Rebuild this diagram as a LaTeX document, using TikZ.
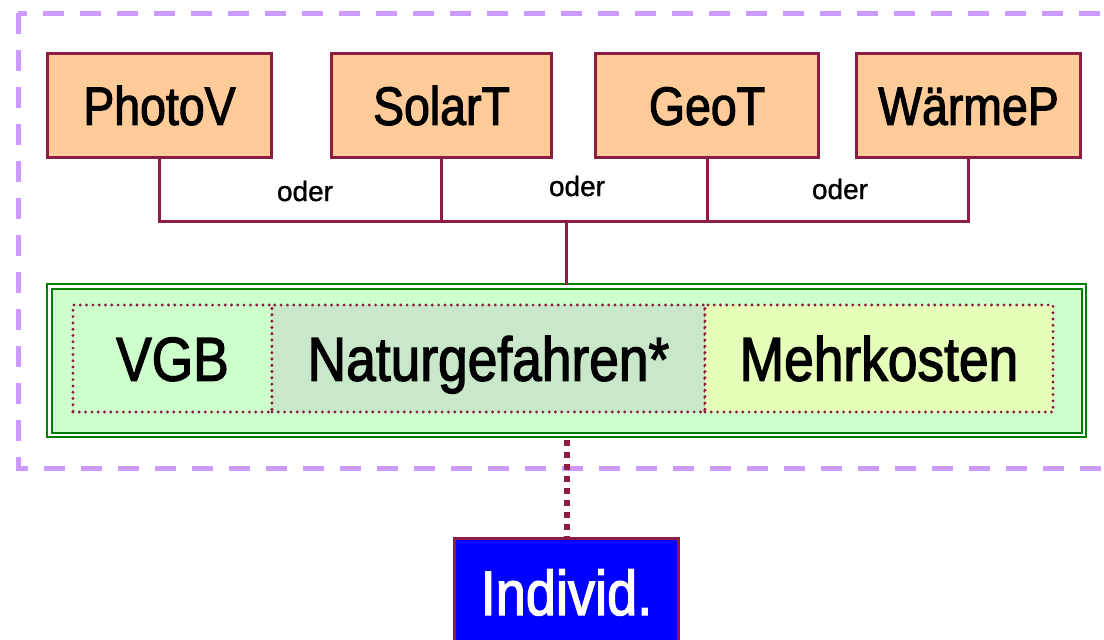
\documentclass[tikz,border=0pt]{standalone}
\usepackage{fontspec}
\setmainfont{Liberation Sans}
\newfontfamily\narrowsans{Liberation Sans}[FakeStretch=0.86, FakeBold=2]
\newfontfamily\smallsans{Liberation Sans}[FakeBold=1]
\definecolor{wine}{HTML}{8C1C40}
\definecolor{peach}{HTML}{FFCC99}
\definecolor{mint}{HTML}{CCFFCC}
\definecolor{lilac}{HTML}{CC99FF}
\definecolor{darkgreen}{HTML}{008000}
\definecolor{sage}{HTML}{C9E8C9}
\definecolor{limecream}{HTML}{E6FFB8}
\definecolor{pureblue}{HTML}{0000FF}
\begin{document}
\begin{tikzpicture}[x=1pt,y=-1pt,
  srcbox/.style={draw=wine, line width=3pt, fill=peach, minimum width=#1,
    minimum height=104pt, inner sep=0pt,
    font=\narrowsans\fontsize{54}{60}\selectfont, text height=38.7pt, text depth=0pt},
  partbox/.style={draw=wine, line width=3.2pt, line cap=round, dash pattern=on 0pt off 6.3pt,
    fill=#1, minimum height=107pt, inner sep=0pt,
    font=\narrowsans\fontsize{62}{68}\selectfont, text height=44.4pt, text depth=0pt},
  orlabel/.style={font=\smallsans\fontsize{28}{30}\selectfont, inner sep=0pt},
  link/.style={draw=wine, line width=3pt}]
\clip (0,0) rectangle (1104,640);
\fill[white] (0,0) rectangle (1104,640);

% dashed frame around the whole group
\draw[lilac, line width=5pt, dash pattern=on 21pt off 16pt] (18,13) rectangle (1140,468);

% heat sources
\node[srcbox=224] (pv) at (159.5,105.5) {PhotoV};
\node[srcbox=220] (st) at (441.5,105.5) {SolarT};
\node[srcbox=223] (gt) at (707,105.5) {GeoT};
\node[srcbox=224] (wp) at (968.5,105.5) {WärmeP};

% collecting bus
\coordinate (bus) at (566.5,221);
\draw[link] (pv.south) -- (pv.south |- bus) -- (wp.south |- bus) -- (wp.south);
\draw[link] (st.south) -- (st.south |- bus);
\draw[link] (gt.south) -- (gt.south |- bus);

\node[orlabel] (or1) at (305,191) {oder};
\node[orlabel] (or2) at (577,186) {oder};
\node[orlabel] (or3) at (840,189) {oder};

% combined module
\node[draw=darkgreen, line width=2pt, double=white, double distance=2.5pt,
  fill=mint, minimum width=1034.5pt, minimum height=148.5pt, inner sep=0pt]
  (group) at (566.5,360.5) {};
\draw[link] (bus) -- (group.north);

\node[partbox=mint, minimum width=199pt] (vgb) at (172.5,358.5) {VGB};
\node[partbox=sage, minimum width=433pt] (nat) at (488.5,358.5) {Naturgefahren*};
\node[partbox=limecream, minimum width=348pt] (mk) at (879,358.5) {Mehrkosten};

% individual solution
\node[draw=wine, line width=3pt, fill=pureblue, text=white,
  minimum width=224pt, minimum height=108pt, inner sep=0pt,
  font=\narrowsans\fontsize{63}{68}\selectfont, text height=45pt, text depth=0pt]
  (ind) at (566.5,592.5) {Individ.};
\draw[wine, line width=6pt, dash pattern=on 6pt off 6pt, shorten <=4pt]
  (group.south) -- (ind.north);
\end{tikzpicture}
\end{document}
